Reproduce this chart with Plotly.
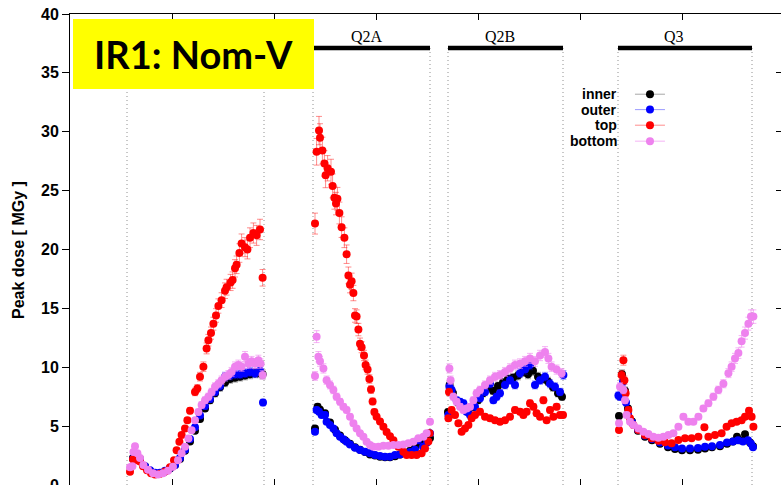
import plotly.graph_objects as go

# ---------------- data ----------------
magnet_names = ["Q1", "Q2A", "Q2B", "Q3"]
magnet_start = [22.85, 32.15, 38.9, 47.4]   # m
magnet_end = [29.7, 38.0, 44.65, 54.1]      # m
magnet_label_x = [None, 34.85, 41.475, 50.2]  # Q1 label is hidden behind the title box

series_names = ["inner", "outer", "top", "bottom"]

inner_x = [23.15, 23.5, 23.75, 24.0, 24.25, 24.5, 24.75, 25.0, 25.25, 25.5, 25.75, 26.0, 26.25, 26.5, 26.75, 27.0, 27.25, 27.5, 27.75, 28.0, 28.25, 28.5, 28.75, 29.0, 29.25, 29.5, 29.63,
           32.25, 32.38, 32.5, 32.75, 33.0, 33.25, 33.5, 33.75, 34.0, 34.25, 34.5, 34.75, 35.0, 35.25, 35.5, 35.75, 36.0, 36.25, 36.5, 37.0, 37.25, 37.5, 37.75, 38.0,
           38.9, 38.98, 39.15, 39.4, 39.65, 39.9, 40.15, 40.4, 40.65, 40.9, 41.15, 41.4, 41.65, 41.9, 42.15, 42.4, 42.65, 42.9, 43.15, 43.4, 43.65, 43.9, 44.15, 44.4, 44.6,
           47.45, 47.6, 47.75, 47.9, 48.1, 48.4, 48.75, 49.1, 49.5, 49.9, 50.25, 50.6, 51.0, 51.4, 51.75, 52.1, 52.5, 52.85, 53.15, 53.35, 53.5, 53.75, 54.0, 54.15]
inner_y = [2.3, 2.2, 1.6, 1.2, 1.0, 1.0, 1.15, 1.4, 1.7, 2.2, 2.9, 3.7, 4.6, 5.6, 6.5, 7.2, 7.8, 8.3, 8.7, 9.0, 9.1, 9.2, 9.3, 9.4, 9.5, 9.5, 9.4,
           4.8, 6.65, 6.4, 6.1, 5.3, 4.7, 4.2, 3.8, 3.5, 3.2, 3.0, 2.8, 2.6, 2.5, 2.4, 2.35, 2.35, 2.45, 2.6, 2.9, 3.2, 3.6, 3.5, 4.0,
           6.2, 8.5, 7.8, 7.0, 6.6, 6.2, 6.6, 7.2, 7.8, 8.3, 8.0, 8.4, 8.7, 9.0, 9.1, 9.3, 9.6, 9.4, 9.7, 9.2, 9.0, 8.8, 8.3, 7.8, 7.5,
           5.86, 9.4, 8.0, 6.5, 5.4, 4.6, 4.1, 3.8, 3.5, 3.2, 3.05, 2.95, 2.95, 3.0, 3.1, 3.2, 3.3, 3.5, 3.7, 4.1, 3.8, 4.3, 3.6, 3.3]

outer_x = [23.15, 23.35, 23.5, 23.75, 24.0, 24.25, 24.5, 24.75, 25.0, 25.25, 25.5, 25.75, 26.0, 26.25, 26.5, 26.75, 27.0, 27.25, 27.5, 27.75, 28.0, 28.25, 28.5, 28.75, 29.0, 29.25, 29.5, 29.65,
           32.25, 32.33, 32.45, 32.58, 32.75, 32.83, 33.0, 33.17, 33.33, 33.5, 33.67, 33.83, 34.0, 34.25, 34.5, 34.75, 35.0, 35.25, 35.5, 35.75, 36.0, 36.25, 36.5, 36.75, 37.0, 37.25, 37.4, 37.65, 37.85, 38.0,
           38.92, 38.97, 39.08, 39.33, 39.5, 39.67, 39.83, 40.0, 40.25, 40.5, 40.75, 41.0, 41.17, 41.33, 41.5, 41.75, 42.0, 42.25, 42.5, 42.75, 43.0, 43.25, 43.5, 43.75, 44.0, 44.25, 44.5, 44.67,
           47.42, 47.5, 47.65, 47.8, 47.9, 48.1, 48.4, 48.75, 49.1, 49.5, 49.9, 50.25, 50.6, 51.0, 51.4, 51.75, 52.1, 52.5, 52.85, 53.15, 53.4, 53.65, 53.9, 54.05, 54.15]
outer_y = [2.2, 2.3, 2.1, 1.6, 1.25, 1.05, 1.05, 1.2, 1.45, 1.7, 2.3, 3.0, 3.9, 4.9, 5.9, 6.7, 7.3, 7.9, 8.4, 9.2, 9.3, 9.4, 9.4, 9.5, 9.6, 9.5, 9.7, 7.0,
           4.53, 6.37, 6.22, 5.95, 5.95, 5.37, 5.1, 4.8, 4.39, 4.1, 3.88, 3.68, 3.45, 3.17, 2.97, 2.83, 2.69, 2.55, 2.46, 2.4, 2.4, 2.55, 2.6, 2.7, 2.8, 3.0, 3.8, 3.25, 3.6, 4.4,
           5.95, 8.35, 8.07, 7.2, 7.07, 6.94, 6.22, 5.95, 6.65, 7.36, 7.9, 8.6, 7.2, 7.5, 7.8, 8.5, 8.9, 8.5, 9.5, 9.8, 10.2, 8.5, 8.9, 9.2, 8.6, 8.35, 7.9, 9.35,
           7.6, 7.5, 8.8, 7.0, 6.0, 5.3, 4.7, 4.2, 3.9, 3.6, 3.35, 3.2, 3.1, 3.1, 3.15, 3.25, 3.3, 3.4, 3.6, 3.7, 3.8, 3.7, 3.8, 3.5, 3.2]

top_x = [23.0, 23.15, 23.35, 23.5, 23.65, 23.85, 24.05, 24.25, 24.5, 24.75, 25.0, 25.2, 25.33, 25.47, 25.58, 25.75, 25.87, 26.0, 26.25, 26.37, 26.5, 26.67, 26.83, 26.92, 27.05, 27.17, 27.3, 27.42, 27.58, 27.75, 27.83, 28.03, 28.13, 28.25, 28.33, 28.47, 28.58, 28.75, 28.87, 29.0, 29.17, 29.33, 29.5, 29.63,
         32.25, 32.33, 32.45, 32.5, 32.62, 32.72, 32.78, 32.88, 33.05, 33.13, 33.22, 33.3, 33.37, 33.47, 33.58, 33.72, 33.83, 33.92, 34.0, 34.08, 34.17, 34.25, 34.33, 34.42, 34.5, 34.58, 34.7, 34.78, 34.88, 34.97, 35.05, 35.13, 35.22, 35.33, 35.5, 35.67, 35.83, 36.0, 36.17, 36.42, 36.67, 36.83, 37.08, 37.33, 37.58, 37.75, 37.92, 37.98,
         38.92, 38.95, 39.08, 39.25, 39.42, 39.58, 39.75, 39.92, 40.08, 40.25, 40.5, 40.75, 41.0, 41.25, 41.5, 41.75, 42.0, 42.25, 42.5, 42.67, 42.83, 43.0, 43.17, 43.33, 43.5, 43.67, 43.83, 44.0, 44.17, 44.33, 44.5, 44.65,
         47.45, 47.58, 47.67, 47.72, 47.78, 47.92, 48.0, 48.17, 48.42, 48.75, 49.08, 49.42, 49.75, 50.08, 50.42, 50.75, 51.08, 51.42, 51.72, 51.92, 52.25, 52.58, 52.83, 53.08, 53.33, 53.58, 53.75, 53.95, 54.08, 54.17]
top_y = [1.13, 2.18, 2.1, 2.0, 1.6, 1.25, 1.0, 0.9, 0.95, 1.15, 1.5, 2.1, 2.95, 3.68, 4.25, 4.8, 5.5, 6.3, 7.9, 8.2, 9.2, 10.05, 11.6, 12.3, 12.9, 13.7, 14.4, 15.2, 15.7, 16.5, 16.8, 17.2, 17.4, 18.4, 18.7, 19.7, 20.5, 20.2, 20.0, 21.0, 21.4, 21.2, 21.7, 17.6,
         22.2, 28.3, 30.1, 29.5, 28.4, 27.3, 26.3, 26.9, 26.6, 25.4, 24.4, 23.9, 24.3, 23.1, 21.9, 21.0, 19.6, 17.8, 17.0, 17.3, 16.3, 14.4, 14.3, 13.2, 12.0, 11.7, 11.0, 10.2, 9.8, 9.0, 8.1, 7.1, 6.2, 5.8, 5.4, 4.95, 4.5, 4.15, 3.8, 3.25, 2.83, 2.55, 2.55, 2.55, 2.7, 3.1, 3.7, 4.4,
         5.66, 7.9, 6.37, 5.95, 5.24, 4.53, 4.8, 5.1, 5.66, 5.95, 6.22, 5.8, 5.66, 5.5, 5.37, 5.5, 5.8, 6.37, 6.22, 5.95, 6.22, 6.94, 6.65, 6.09, 5.8, 7.2, 5.5, 6.37, 5.8, 6.65, 5.95, 5.95,
         4.67, 9.35, 10.6, 8.9, 7.8, 6.37, 5.66, 5.1, 4.67, 4.25, 3.96, 3.76, 3.62, 3.54, 3.82, 3.96, 3.96, 4.1, 4.9, 4.1, 4.25, 4.39, 4.95, 5.24, 5.37, 5.5, 5.8, 6.3, 5.8, 4.95]

bottom_x = [23.0, 23.12, 23.17, 23.25, 23.37, 23.5, 23.67, 23.9, 24.15, 24.4, 24.65, 24.9, 25.15, 25.4, 25.58, 25.75, 25.92, 26.08, 26.25, 26.42, 26.58, 26.75, 26.92, 27.08, 27.25, 27.42, 27.58, 27.75, 27.92, 28.08, 28.25, 28.42, 28.58, 28.75, 28.92, 29.08, 29.25, 29.42, 29.53, 29.63,
            32.25, 32.33, 32.42, 32.5, 32.67, 32.83, 33.0, 33.17, 33.33, 33.5, 33.67, 33.83, 34.0, 34.17, 34.33, 34.5, 34.67, 34.83, 35.0, 35.17, 35.42, 35.67, 35.92, 36.17, 36.42, 36.67, 36.92, 37.17, 37.42, 37.67, 37.83, 38.0,
            38.97, 39.03, 39.17, 39.33, 39.5, 39.67, 39.83, 40.0, 40.17, 40.33, 40.5, 40.75, 41.0, 41.25, 41.5, 41.75, 42.0, 42.25, 42.5, 42.75, 43.0, 43.25, 43.5, 43.75, 43.92, 44.08, 44.33, 44.58,
            47.45, 47.5, 47.67, 47.75, 47.83, 48.0, 48.17, 48.42, 48.67, 48.92, 49.17, 49.42, 49.67, 49.92, 50.17, 50.42, 50.67, 50.92, 51.17, 51.42, 51.67, 51.92, 52.17, 52.42, 52.67, 52.92, 53.08, 53.25, 53.42, 53.58, 53.75, 53.92, 54.05, 54.17]
bottom_y = [1.5, 1.6, 2.8, 3.3, 2.7, 2.3, 1.7, 1.3, 1.0, 0.9, 1.0, 1.2, 1.55, 2.1, 2.7, 3.25, 3.95, 4.65, 5.5, 6.2, 6.8, 7.2, 7.5, 7.9, 8.35, 8.6, 8.9, 9.2, 9.35, 9.6, 10.05, 10.2, 10.05, 10.9, 10.3, 10.5, 10.3, 10.6, 10.3, 9.35,
            9.26, 12.6, 10.9, 10.5, 9.9, 8.9, 8.5, 8.07, 7.5, 7.07, 6.65, 6.37, 5.8, 5.24, 4.8, 4.39, 4.1, 3.68, 3.4, 3.25, 3.25, 3.34, 3.34, 3.4, 3.4, 3.45, 3.54, 3.68, 3.96, 4.1, 4.39, 5.37,
            9.9, 8.9, 7.5, 7.07, 6.65, 6.37, 6.5, 6.65, 7.2, 7.8, 8.07, 8.5, 8.9, 9.2, 9.35, 9.6, 9.9, 10.2, 10.3, 10.5, 10.75, 10.5, 11.0, 11.3, 10.75, 10.05, 9.8, 9.5,
            5.24, 8.35, 8.07, 7.2, 5.95, 5.37, 5.1, 4.8, 4.53, 4.33, 4.1, 4.02, 4.1, 4.25, 4.39, 4.95, 5.8, 5.37, 5.37, 5.8, 6.5, 6.94, 7.5, 8.07, 8.6, 9.5, 10.05, 10.75, 11.2, 12.2, 12.9, 13.7, 14.3, 14.3]

# ---------------- figure ----------------
colors = {"inner": "#000000", "outer": "#0000ff", "top": "#ff0000", "bottom": "#ee82ee"}
err_colors = {"inner": "rgba(0,0,0,0.35)", "outer": "rgba(0,0,255,0.4)",
              "top": "rgba(255,0,0,0.45)", "bottom": "rgba(238,130,238,0.6)"}
xs = {"inner": inner_x, "outer": outer_x, "top": top_x, "bottom": bottom_x}
ys = {"inner": inner_y, "outer": outer_y, "top": top_y, "bottom": bottom_y}

fig = go.Figure()
for nm in series_names:
    fig.add_trace(go.Scatter(
        x=xs[nm], y=ys[nm], mode="markers", name=nm, showlegend=False,
        marker=dict(color=colors[nm], size=8, line=dict(width=0)),
        error_y=dict(type="percent", value=4, color=err_colors[nm], thickness=1, width=3),
        error_x=dict(type="constant", value=0.12, color=err_colors[nm], thickness=1, width=2),
    ))

# legend keys (one legend per entry so the row spacing matches)
legend_rows = [0.8297, 0.7970, 0.7639, 0.7300]
legend_ids = ["legend", "legend2", "legend3", "legend4"]
for nm, lid in zip(series_names, legend_ids):
    fig.add_trace(go.Scatter(
        x=[None], y=[None], mode="lines+markers", name=" ", legend=lid, showlegend=True,
        yaxis="y2",
        line=dict(color=err_colors[nm], width=1),
        marker=dict(color=colors[nm], size=8),
    ))

legend_layout = {}
for lid, ry in zip(legend_ids, legend_rows):
    legend_layout[lid] = dict(x=0.7876, y=ry, xanchor="left", yanchor="middle",
                              bgcolor="rgba(0,0,0,0)", borderwidth=0,
                              font=dict(size=12), itemwidth=30)

annotations = []
for nm, ry in zip(series_names, legend_rows):
    annotations.append(dict(text=nm, x=0.7722, y=ry, xref="paper", yref="paper",
                            xanchor="right", yanchor="middle", showarrow=False,
                            font=dict(family="Liberation Sans", size=14, color="black", weight="bold")))

shapes = []
bar_y = 0.928
for s, e in zip(magnet_start, magnet_end):
    for xv in (s, e):
        shapes.append(dict(type="line", xref="x", yref="paper", x0=xv, x1=xv, y0=0, y1=bar_y,
                           line=dict(color="#909090", width=1, dash="1px,3px"), layer="below"))
for s, e in zip(magnet_start, magnet_end):
    shapes.append(dict(type="line", xref="x", yref="paper", x0=s, x1=e, y0=bar_y, y1=bar_y,
                       line=dict(color="black", width=4.5), layer="above"))

for nm, lx in zip(magnet_names, magnet_label_x):
    if lx is None:
        continue
    annotations.append(dict(text=nm, x=lx, y=0.953, xref="x", yref="paper",
                            xanchor="center", yanchor="middle", showarrow=False,
                            font=dict(family="Liberation Serif", size=16, color="black")))

# y axis title
annotations.append(dict(text="Peak dose [ MGy ]", x=-0.0717, y=0.499, xref="paper", yref="paper",
                        textangle=-90, xanchor="center", yanchor="middle", showarrow=False,
                        font=dict(family="Liberation Sans", size=16, color="black", weight="bold")))

# yellow title box
annotations.append(dict(text="IR1: Nom-V", x=0.1737, y=0.915, xref="paper", yref="paper",
                        xanchor="center", yanchor="middle", showarrow=False,
                        width=241, height=70, bgcolor="#ffff00", borderpad=0, borderwidth=0,
                        align="center", valign="middle",
                        font=dict(family="Lato", size=38, color="black", weight="bold")))

fig.update_layout(
    width=781, height=485,
    margin=dict(l=70, r=0, t=14, b=0, autoexpand=False),
    plot_bgcolor="white", paper_bgcolor="white",
    xaxis=dict(range=[20, 55.55], tick0=20, dtick=5.1, ticks="inside", ticklen=6,
               tickcolor="black", mirror="ticks", showline=True, linecolor="black",
               linewidth=1, showticklabels=False, showgrid=False, zeroline=False),
    yaxis=dict(range=[0, 40], dtick=5, ticks="outside", ticklen=7, tickcolor="black",
               showline=True, linecolor="black", linewidth=1, showgrid=False, zeroline=False,
               ticklabeloverflow="allow",
               tickfont=dict(family="Liberation Sans", size=16, color="black", weight="bold")),
    yaxis2=dict(overlaying="y", side="right", range=[0, 40], dtick=5, ticks="inside",
                ticklen=5, tickcolor="black", showticklabels=False, showgrid=False,
                zeroline=False, showline=False),
    shapes=shapes,
    annotations=annotations,
    **legend_layout,
)

fig.write_html("out.html", config={"displayModeBar": False},
               post_script="document.body.style.margin='0px';")
